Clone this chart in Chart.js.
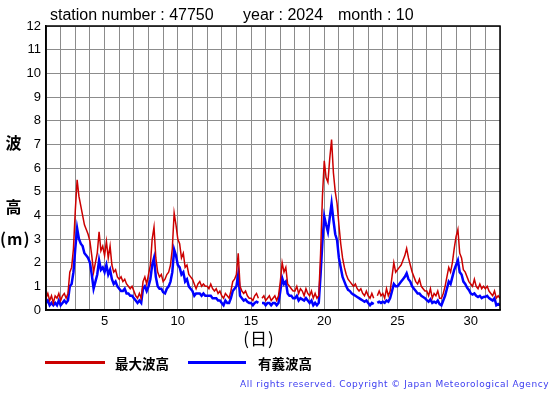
<!DOCTYPE html>
<html>
<head>
<meta charset="utf-8">
<script src="https://cdn.jsdelivr.net/npm/chart.js@4/dist/chart.umd.min.js"></script>
<style>
  body { margin: 0; background: #fff; }
  #wrap { position: relative; width: 555px; height: 395px; overflow: hidden; }
  .t { position: absolute; white-space: nowrap; font-family: "Liberation Sans", Arial, sans-serif; color: #000; }
  .jp { position: absolute; white-space: nowrap; font-family: "Noto Sans CJK JP", sans-serif; color: #000; }
  .leg { position: absolute; height: 3px; }
</style>
</head>
<body>
<div id="wrap">
  <canvas id="waveChart" width="555" height="395"></canvas>

  <!-- タイトル -->
  <div class="t" style="left:50px;top:7px;font-size:16px;line-height:16px;">station number : 47750</div>
  <div class="t" style="left:243px;top:7px;font-size:16px;line-height:16px;">year : 2024</div>
  <div class="t" style="left:338px;top:7px;font-size:16px;line-height:16px;">month : 10</div>

  <!-- 縦軸ラベル -->
  <div class="jp" style="left:0;width:27px;text-align:center;top:134px;font-size:16px;line-height:16px;font-weight:bold;">波</div>
  <div class="jp" style="left:0;width:27px;text-align:center;top:198px;font-size:16px;line-height:16px;font-weight:bold;">高</div>
  <div class="jp" style="left:0;width:27px;text-align:center;top:230px;font-size:16px;line-height:16px;font-weight:bold;letter-spacing:1px;">(m)</div>

  <!-- 横軸ラベル -->
  <div class="jp" style="left:229px;width:60px;text-align:center;top:329px;font-size:17px;line-height:17px;letter-spacing:1px;">(日)</div>

  <!-- 凡例 -->
  <div class="leg" style="left:45px;width:60px;top:361px;background:#cc0000;"></div>
  <div class="jp" style="left:115px;top:356px;font-size:13.5px;line-height:14px;font-weight:bold;">最大波高</div>
  <div class="leg" style="left:188px;width:58px;top:361px;background:#0000ff;"></div>
  <div class="jp" style="left:258px;top:356px;font-size:13.5px;line-height:14px;font-weight:bold;">有義波高</div>

  <div id="copy" class="t" style="left:240px;top:379px;font-family:'DejaVu Sans',sans-serif;font-size:9px;line-height:10px;color:#3c3cf0;">All rights reserved. Copyright © Japan Meteorological Agency</div>
</div>

<script>
// 2024年10月 3時間毎の波高 (m)  1日0時 〜 31日24時
const startDay = 1;
const stepHours = 3;

// 最大波高
const maxWave = [
  0.5, 0.7, 0.4, 0.6, 0.3, 0.6, 0.5, 0.7,   // 1
  0.4, 0.6, 0.7, 0.5, 0.7, 1.6, 1.8, 2.6,   // 2
  4.2, 5.5, 4.8, 4.4, 4.0, 3.6, 3.4, 3.2,   // 3
  2.9, 2.3, 1.6, 2.0, 2.4, 3.3, 2.5, 2.7,   // 4
  2.3, 2.9, 2.2, 2.7, 1.9, 1.6, 1.7, 1.4,   // 5
  1.3, 1.4, 1.2, 1.3, 1.1, 1.0, 0.9, 1.0,   // 6
  0.8, 0.6, 0.5, 0.7, 0.5, 1.2, 1.4, 1.1,   // 7
  1.5, 1.9, 3.0, 3.5, 2.2, 1.6, 1.4, 1.5,   // 8
  1.2, 1.3, 1.5, 1.6, 1.9, 2.6, 4.1, 3.6,   // 9
  3.0, 2.8, 2.2, 2.4, 1.8, 1.9, 1.5, 1.4,   // 10
  1.3, 1.1, 0.9, 1.1, 1.2, 1.0, 1.1, 1.0,   // 11
  1.0, 0.9, 1.1, 0.9, 0.8, 0.9, 0.7, 0.8,   // 12
  0.6, 0.5, 0.7, 0.6, 0.5, 0.8, 1.2, 1.3,   // 13
  1.5, 2.4, 1.0, 0.8, 0.7, 0.8, 0.6, 0.5,   // 14
  0.5, 0.4, 0.6, 0.7, 0.5, null, 0.5, 0.6,  // 15
  0.4, 0.5, 0.6, 0.4, 0.5, 0.6, 0.4, 0.6,   // 16
  1.2, 2.0, 1.6, 1.8, 1.1, 1.0, 0.9, 0.8,   // 17
  0.8, 1.0, 0.7, 0.9, 0.8, 0.6, 0.9, 0.7,   // 18
  0.6, 0.8, 0.5, 0.7, 0.5, 0.6, 2.4, 4.8,   // 19
  6.3, 5.6, 5.4, 6.4, 7.2, 5.8, 5.0, 4.5,   // 20
  3.6, 2.8, 2.2, 1.8, 1.5, 1.3, 1.2, 1.1,   // 21
  1.0, 1.1, 0.9, 0.8, 0.9, 0.7, 0.6, 0.8,   // 22
  0.6, 0.5, 0.7, 0.5, null, 0.6, 0.8, 0.6,  // 23
  0.7, 0.5, 0.9, 0.6, 0.8, 1.4, 2.0, 1.6,   // 24
  1.7, 1.8, 1.9, 2.1, 2.3, 2.6, 2.2, 1.9,   // 25
  1.6, 1.4, 1.2, 1.1, 1.3, 1.0, 0.9, 0.8,   // 26
  0.8, 0.6, 0.9, 0.5, 0.7, 0.6, 0.8, 0.5,   // 27
  0.5, 0.7, 1.0, 1.4, 1.8, 1.6, 2.0, 2.6,   // 28
  3.1, 3.4, 2.4, 2.2, 1.7, 1.6, 1.4, 1.2,   // 29
  1.1, 1.0, 1.3, 1.0, 0.9, 1.1, 0.9, 1.0,   // 30
  0.9, 1.0, 0.8, 0.7, 0.6, 0.8, 0.5, 0.6,   // 31
  0.5
];

// 有義波高
const sigWave = [
  0.3, 0.4, 0.2, 0.3, 0.2, 0.3, 0.2, 0.4,   // 1
  0.2, 0.3, 0.4, 0.3, 0.4, 1.0, 1.1, 1.6,   // 2
  2.6, 3.45, 3.0, 2.8, 2.7, 2.4, 2.3, 2.2,  // 3
  2.0, 1.5, 0.9, 1.2, 1.5, 2.1, 1.7, 1.8,   // 4
  1.6, 1.9, 1.5, 1.7, 1.3, 1.1, 1.2, 1.0,   // 5
  0.9, 0.8, 0.8, 0.9, 0.7, 0.7, 0.6, 0.6,   // 6
  0.5, 0.4, 0.3, 0.4, 0.3, 0.9, 1.0, 0.8,   // 7
  1.0, 1.3, 1.9, 2.2, 1.4, 1.0, 0.9, 0.9,   // 8
  0.75, 0.7, 0.9, 1.0, 1.2, 1.6, 2.55, 2.3, // 9
  1.9, 1.8, 1.5, 1.6, 1.2, 1.3, 1.0, 0.9,   // 10
  0.8, 0.6, 0.7, 0.7, 0.7, 0.6, 0.7, 0.6,   // 11
  0.6, 0.6, 0.6, 0.5, 0.5, 0.5, 0.4, 0.4,   // 12
  0.3, 0.2, 0.4, 0.3, 0.3, 0.5, 0.8, 0.9,   // 13
  1.0, 1.5, 0.6, 0.5, 0.4, 0.45, 0.35, 0.3, // 14
  0.3, 0.2, 0.3, 0.35, 0.3, null, 0.3, 0.3, // 15
  0.2, 0.3, 0.3, 0.2, 0.3, 0.3, 0.2, 0.3,   // 16
  0.8, 1.35, 1.1, 1.2, 0.7, 0.6, 0.6, 0.5,  // 17
  0.5, 0.6, 0.4, 0.5, 0.45, 0.4, 0.5, 0.4,  // 18
  0.3, 0.4, 0.2, 0.3, 0.2, 0.3, 1.5, 2.9,   // 19
  3.95, 3.6, 3.3, 3.9, 4.5, 3.8, 3.2, 2.95, // 20
  2.2, 1.8, 1.4, 1.2, 1.0, 0.85, 0.8, 0.7,  // 21
  0.65, 0.6, 0.55, 0.5, 0.45, 0.4, 0.35, 0.4, // 22
  0.3, 0.2, 0.3, 0.25, null, 0.3, 0.35, 0.3, // 23
  0.35, 0.3, 0.4, 0.35, 0.5, 0.8, 1.1, 1.0, // 24
  1.0, 1.1, 1.2, 1.3, 1.4, 1.55, 1.3, 1.2,  // 25
  1.0, 0.9, 0.8, 0.7, 0.7, 0.6, 0.55, 0.5,  // 26
  0.42, 0.35, 0.45, 0.3, 0.35, 0.3, 0.4, 0.25, // 27
  0.2, 0.4, 0.6, 0.9, 1.2, 1.1, 1.4, 1.7,   // 28
  1.9, 2.1, 1.6, 1.5, 1.2, 1.1, 0.95, 0.85, // 29
  0.7, 0.65, 0.7, 0.6, 0.55, 0.6, 0.5, 0.55, // 30
  0.56, 0.6, 0.5, 0.45, 0.4, 0.5, 0.2, 0.25, // 31
  0.2
];

// 横軸の目盛
const dayMin = 1;
const dayMax = 32;
const dayLabels = [5, 10, 15, 20, 25, 30];

function toPoints(values) {
  return values.map(function (v, i) {
    return { x: startDay + i * stepHours / 24, y: v };
  });
}

// 枠線
const frame = {
  id: "frame",
  afterDatasetsDraw(chart) {
    const a = chart.chartArea;
    const ctx = chart.ctx;
    ctx.save();
    ctx.strokeStyle = "#000";
    ctx.lineWidth = 1.5;
    ctx.strokeRect(a.left, a.top, a.right - a.left, a.bottom - a.top);
    ctx.restore();
  }
};

const tickFont = { family: "'Liberation Sans', Arial, sans-serif", size: 13 };

new Chart(document.getElementById("waveChart"), {
  type: "line",
  data: {
    datasets: [
      {
        label: "最大波高",
        data: toPoints(maxWave),
        borderColor: "#cc0000",
        borderWidth: 1.5,
        pointRadius: 0,
        tension: 0,
        spanGaps: false
      },
      {
        label: "有義波高",
        data: toPoints(sigWave),
        borderColor: "#0000ff",
        borderWidth: 2.5,
        pointRadius: 0,
        tension: 0,
        spanGaps: false
      }
    ]
  },
  options: {
    responsive: false,
    animation: false,
    layout: { padding: { left: 0, top: 26, right: 55, bottom: 0 } },
    plugins: {
      legend: { display: false },
      title: { display: false },
      tooltip: { enabled: false }
    },
    scales: {
      x: {
        type: "linear",
        min: dayMin,
        max: dayMax,
        afterFit: function (s) { s.height = 85; },
        ticks: {
          stepSize: 1,
          autoSkip: false,
          maxRotation: 0,
          padding: 4,
          color: "#000",
          font: tickFont,
          callback: function (v) { return dayLabels.includes(v) ? String(v) : ""; }
        },
        grid: { color: "#8c8c8c", lineWidth: 1, drawTicks: false },
        border: { color: "#000", width: 1.5 }
      },
      y: {
        min: 0,
        max: 12,
        afterFit: function (s) { s.width = 46; },
        ticks: {
          stepSize: 1,
          padding: 5,
          color: "#000",
          font: tickFont
        },
        grid: { color: "#8c8c8c", lineWidth: 1, drawTicks: false },
        border: { color: "#000", width: 1.5 }
      }
    }
  },
  plugins: [frame]
});

// 著作権表示を右端 549px に合わせる
const copy = document.getElementById("copy");
const w = copy.getBoundingClientRect().width;
const n = copy.textContent.length;
copy.style.letterSpacing = ((549 - 240 - w) / n) + "px";
</script>
</body>
</html>
